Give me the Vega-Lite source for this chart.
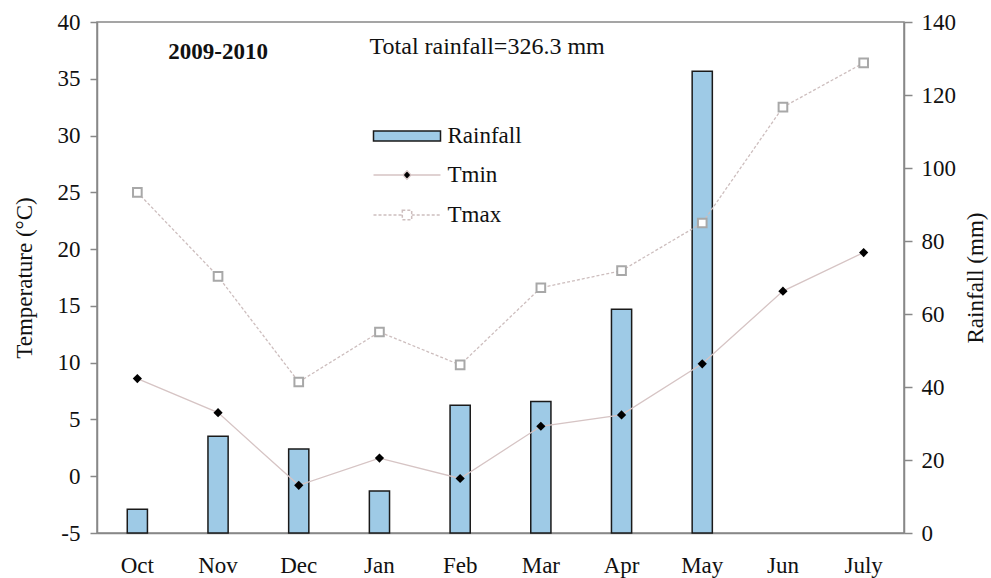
{
  "$schema": "https://vega.github.io/schema/vega-lite/v6.json",
  "width": 807,
  "height": 511,
  "autosize": "none",
  "padding": {"left": 97, "top": 22, "right": 87, "bottom": 45},
  "background": "white",
  "config": {
    "view": {"stroke": "#888888", "strokeWidth": 1.5},
    "font": "Liberation Serif",
    "axis": {"labelFont": "Liberation Serif", "titleFont": "Liberation Serif", "grid": false, "labelFontSize": 23, "titleFontSize": 23, "titleFontWeight": "normal", "labelColor": "#111111", "titleColor": "#111111", "domainColor": "#888888", "tickColor": "#888888", "domainWidth": 1.5, "tickWidth": 1.5},
    "legend": {"labelFont": "Liberation Serif", "labelFontSize": 23, "labelColor": "#111111"}
  },
  "data": {
    "values": [
      {"month": "Oct", "rain": 6.5, "tmin": 8.6, "tmax": 25.0},
      {"month": "Nov", "rain": 26.5, "tmin": 5.6, "tmax": 17.6},
      {"month": "Dec", "rain": 23.0, "tmin": -0.8, "tmax": 8.3},
      {"month": "Jan", "rain": 11.5, "tmin": 1.6, "tmax": 12.7},
      {"month": "Feb", "rain": 35.0, "tmin": -0.2, "tmax": 9.8},
      {"month": "Mar", "rain": 36.0, "tmin": 4.4, "tmax": 16.6},
      {"month": "Apr", "rain": 61.3, "tmin": 5.4, "tmax": 18.1},
      {"month": "May", "rain": 126.5, "tmin": 9.9, "tmax": 22.3},
      {"month": "Jun", "rain": null, "tmin": 16.3, "tmax": 32.5},
      {"month": "July", "rain": null, "tmin": 19.7, "tmax": 36.4}
    ]
  },
  "encoding": {
    "x": {
      "field": "month",
      "type": "nominal",
      "sort": ["Oct", "Nov", "Dec", "Jan", "Feb", "Mar", "Apr", "May", "Jun", "July"],
      "scale": {"paddingInner": 0.75, "paddingOuter": 0.375},
      "axis": {"title": null, "labelAngle": 0, "ticks": false, "tickSize": 0, "labelPadding": 21}
    }
  },
  "layer": [
    {
      "mark": {"type": "bar", "stroke": "#1a1a1a", "strokeWidth": 1.5},
      "encoding": {
        "y": {
          "field": "rain",
          "type": "quantitative",
          "scale": {"domain": [0, 140], "nice": false, "zero": true},
          "axis": {"orient": "right", "values": [0, 20, 40, 60, 80, 100, 120, 140], "title": "Rainfall (mm)", "tickSize": 8, "labelPadding": 9, "titlePadding": 9, "titleAngle": 270, "titleBaseline": "top"}
        },
        "fill": {
          "datum": "Rainfall",
          "scale": {"range": ["#9ecae6"]},
          "legend": {"orient": "none", "legendX": 275.5, "legendY": 79.5, "title": null, "symbolType": "M-1,-0.15H1V0.15H-1Z", "symbolSize": 4489, "symbolStrokeColor": "#1a1a1a", "symbolStrokeWidth": 1.5, "labelOffset": 6}
        }
      }
    },
    {
      "layer": [
        {
          "mark": {"type": "line", "strokeWidth": 1.3},
          "encoding": {
            "y": {
              "field": "tmin",
              "type": "quantitative",
              "scale": {"domain": [-5, 40], "nice": false, "zero": false},
              "axis": {"orient": "left", "values": [-5, 0, 5, 10, 15, 20, 25, 30, 35, 40], "labelExpr": "'' + datum.value", "title": "Temperature (°C)", "tickSize": 7, "labelPadding": 10, "titlePadding": 21}
            },
            "stroke": {
              "datum": "Tmin",
              "scale": {"range": ["#d6c4c4"]},
              "legend": {"orient": "none", "legendX": 275.5, "legendY": 118.5, "title": null, "symbolType": "M-1,0H-0.13M0.13,0H1M0,-0.13L0.12,0L0,0.13L-0.12,0Z", "symbolSize": 4489, "symbolFillColor": "#000000", "symbolStrokeWidth": 1.3, "labelOffset": 6}
            }
          }
        },
        {
          "mark": {"type": "point", "shape": "diamond", "filled": true, "color": "#000000", "size": 85, "opacity": 1},
          "encoding": {"y": {"field": "tmin", "type": "quantitative"}}
        },
        {
          "mark": {"type": "line", "strokeWidth": 1.3, "strokeDash": [3, 2]},
          "encoding": {
            "y": {"field": "tmax", "type": "quantitative"},
            "stroke": {
              "datum": "Tmax",
              "scale": {"range": ["#cdbebe"]},
              "legend": {"orient": "none", "legendX": 275.5, "legendY": 158.5, "title": null, "symbolType": "M-1,0H-0.14M0.14,0H1M-0.14,-0.14H0.14V0.14H-0.14Z", "symbolSize": 4489, "symbolFillColor": "#ffffff", "symbolStrokeWidth": 1.5, "symbolDash": [3, 2], "labelOffset": 6}
            }
          }
        },
        {
          "mark": {"type": "point", "shape": "square", "filled": true, "fill": "#ffffff", "stroke": "#a8a8a8", "strokeWidth": 2, "size": 75, "opacity": 1},
          "encoding": {"y": {"field": "tmax", "type": "quantitative"}}
        },
        {
          "data": {"values": [{"month": "Nov", "t": 37.4, "label": "2009-2010"}]},
          "mark": {"type": "text", "font": "Liberation Serif", "fontSize": 23, "fontWeight": "bold", "color": "#111111", "baseline": "middle", "align": "center"},
          "encoding": {
            "x": {"field": "month", "type": "nominal", "sort": ["Oct", "Nov", "Dec", "Jan", "Feb", "Mar", "Apr", "May", "Jun", "July"]},
            "y": {"field": "t", "type": "quantitative"},
            "text": {"field": "label"}
          }
        },
        {
          "data": {"values": [{"month": "Feb", "t": 37.8, "label": "Total  rainfall=326.3 mm"}]},
          "mark": {"type": "text", "font": "Liberation Serif", "fontSize": 24, "color": "#111111", "baseline": "middle", "align": "center", "dx": 27},
          "encoding": {
            "x": {"field": "month", "type": "nominal", "sort": ["Oct", "Nov", "Dec", "Jan", "Feb", "Mar", "Apr", "May", "Jun", "July"]},
            "y": {"field": "t", "type": "quantitative"},
            "text": {"field": "label"}
          }
        }
      ],
      "resolve": {"scale": {"stroke": "independent"}}
    }
  ],
  "resolve": {"scale": {"y": "independent", "stroke": "independent"}}
}
